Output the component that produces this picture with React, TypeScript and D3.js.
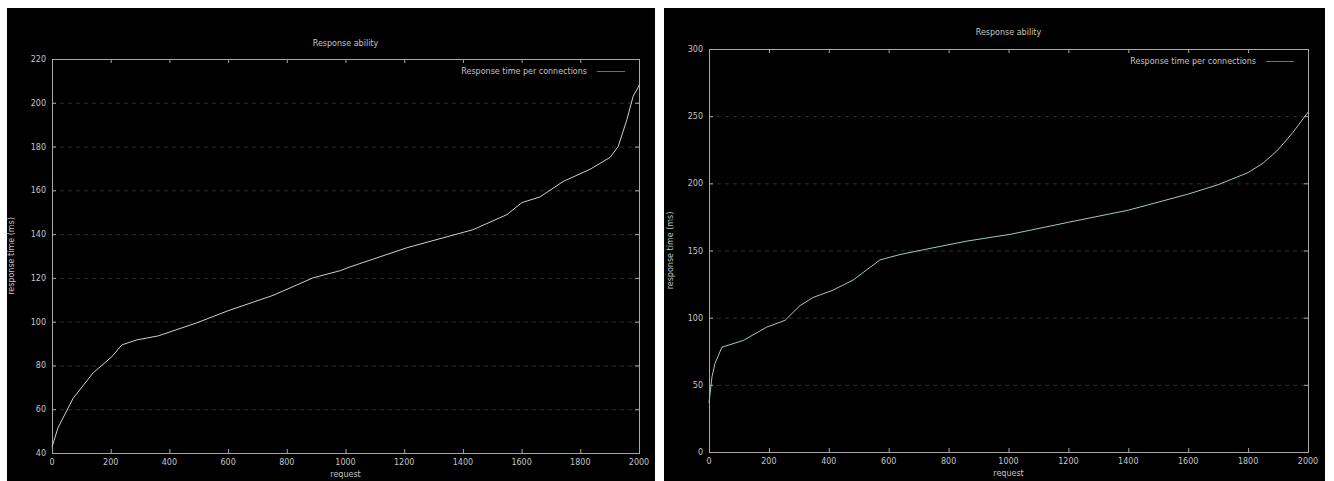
import React, { useRef, useEffect } from "react";
import * as d3 from "d3";

// left chart: response time (ms) vs request index
const leftRequests = [0, 20, 72, 140, 204, 238, 290, 362, 494, 600, 753, 889, 982, 1015, 1210, 1434, 1550, 1601, 1663, 1741, 1833, 1901, 1929, 1959, 1980, 1997, 2000];
const leftTimes = [42.7, 51.4, 65, 76.6, 84, 89.4, 91.7, 93.5, 99.5, 105, 112, 120, 123.3, 125, 133.8, 142, 148.9, 154.4, 157, 164, 169.6, 175, 180, 192.4, 203, 207, 208];

// right chart
const rightRequests = [0, 10, 20, 43, 114, 193, 254, 304, 347, 414, 481, 571, 638, 748, 861, 1005, 1200, 1400, 1600, 1700, 1800, 1850, 1900, 1950, 2000];
const rightTimes = [36.5, 56, 66, 78, 83, 93, 98, 109, 115, 120.5, 128, 143, 147, 152, 157, 162, 171, 180, 192, 199, 208, 215, 225, 238, 253];

const xTicks = [0, 200, 400, 600, 800, 1000, 1200, 1400, 1600, 1800, 2000];
const leftYTicks = [40, 60, 80, 100, 120, 140, 160, 180, 200, 220];
const rightYTicks = [0, 50, 100, 150, 200, 250, 300];

const titleText = "Response ability";
const legendText = "Response time per connections";
const xLabel = "request";
const yLabel = "response time (ms)";

const textColor = "#c4c4c4";
const axisColor = "#a8a8a8";

type PanelCfg = {
  bg: [number, number, number, number];
  plot: [number, number, number, number]; // left, top, right, bottom
  xs: number[];
  ys: number[];
  yDomain: [number, number];
  yTicks: number[];
  lineColor: string;
  titleY: number;
  yLabelX: number;
};

const panels: PanelCfg[] = [
  {
    bg: [7, 8, 655, 481],
    plot: [52, 59, 639, 453],
    xs: leftRequests,
    ys: leftTimes,
    yDomain: [40, 220],
    yTicks: leftYTicks,
    lineColor: "#cfcfcf",
    titleY: 46,
    yLabelX: 14,
  },
  {
    bg: [664, 8, 1325, 481],
    plot: [709, 49, 1308, 452],
    xs: rightRequests,
    ys: rightTimes,
    yDomain: [0, 300],
    yTicks: rightYTicks,
    lineColor: "#98cfbd",
    titleY: 35,
    yLabelX: 673,
  },
];

const App = () => {
  const ref = useRef<SVGSVGElement>(null);

  useEffect(() => {
    const svg = d3.select(ref.current);
    svg.selectAll("*").remove();

    panels.forEach((p) => {
      const [l, t, r, b] = p.plot;
      const g = svg.append("g");
      g.append("rect")
        .attr("x", p.bg[0])
        .attr("y", p.bg[1])
        .attr("width", p.bg[2] - p.bg[0])
        .attr("height", p.bg[3] - p.bg[1])
        .attr("fill", "#000");

      const x = d3.scaleLinear().domain([0, 2000]).range([l, r]);
      const y = d3.scaleLinear().domain(p.yDomain).range([b, t]);

      // dashed horizontal grid
      g.selectAll(".grid")
        .data(p.yTicks.slice(1, -1))
        .join("line")
        .attr("x1", l)
        .attr("x2", r)
        .attr("y1", (d) => y(d) + 0.5)
        .attr("y2", (d) => y(d) + 0.5)
        .attr("stroke", "#2e2e2e")
        .attr("stroke-dasharray", "4,4");

      // frame
      g.append("rect")
        .attr("x", l + 0.5)
        .attr("y", t + 0.5)
        .attr("width", r - l)
        .attr("height", b - t)
        .attr("fill", "none")
        .attr("stroke", axisColor);

      // ticks, drawn inward on all sides
      const tk = 4;
      xTicks.forEach((v) => {
        const px = x(v) + 0.5;
        g.append("line").attr("x1", px).attr("x2", px).attr("y1", b).attr("y2", b - tk).attr("stroke", axisColor);
        g.append("line").attr("x1", px).attr("x2", px).attr("y1", t).attr("y2", t + tk).attr("stroke", axisColor);
      });
      p.yTicks.forEach((v) => {
        const py = y(v) + 0.5;
        g.append("line").attr("x1", l).attr("x2", l + tk).attr("y1", py).attr("y2", py).attr("stroke", axisColor);
        g.append("line").attr("x1", r).attr("x2", r - tk).attr("y1", py).attr("y2", py).attr("stroke", axisColor);
      });

      const txt = (sel: any) =>
        sel.attr("fill", textColor).attr("font-family", "DejaVu Sans").attr("font-size", 8);

      g.selectAll(".xt")
        .data(xTicks)
        .join("text")
        .call(txt)
        .attr("x", (d) => x(d))
        .attr("y", b + 12)
        .attr("text-anchor", "middle")
        .text((d) => d);

      g.selectAll(".yt")
        .data(p.yTicks)
        .join("text")
        .call(txt)
        .attr("x", l - 6)
        .attr("y", (d) => y(d) + 3)
        .attr("text-anchor", "end")
        .text((d) => d);

      g.append("text")
        .call(txt)
        .attr("x", (l + r) / 2)
        .attr("y", p.titleY)
        .attr("text-anchor", "middle")
        .text(titleText);

      g.append("text")
        .call(txt)
        .attr("x", (l + r) / 2)
        .attr("y", b + 24)
        .attr("text-anchor", "middle")
        .text(xLabel);

      g.append("text")
        .call(txt)
        .attr("transform", `translate(${p.yLabelX},${(t + b) / 2}) rotate(-90)`)
        .attr("text-anchor", "middle")
        .text(yLabel);

      // legend
      const ly = t + 12;
      g.append("text")
        .call(txt)
        .attr("x", r - 52)
        .attr("y", ly + 3)
        .attr("text-anchor", "end")
        .text(legendText);
      g.append("line")
        .attr("x1", r - 42)
        .attr("x2", r - 14)
        .attr("y1", ly + 0.5)
        .attr("y2", ly + 0.5)
        .attr("stroke", "#8a8a8a")
        .attr("stroke-width", 0.8);

      const line = d3
        .line<number>()
        .x((_, i) => x(p.xs[i]))
        .y((d) => y(d))
        .curve(d3.curveLinear);

      g.append("path")
        .datum(p.ys)
        .attr("d", line)
        .attr("fill", "none")
        .attr("stroke", p.lineColor)
        .attr("stroke-width", 1);
    });
  }, []);

  return (
    <svg
      ref={ref}
      width={1334}
      height={481}
      style={{ position: "absolute", left: 0, top: 0, background: "#fff" }}
    />
  );
};

export default App;
